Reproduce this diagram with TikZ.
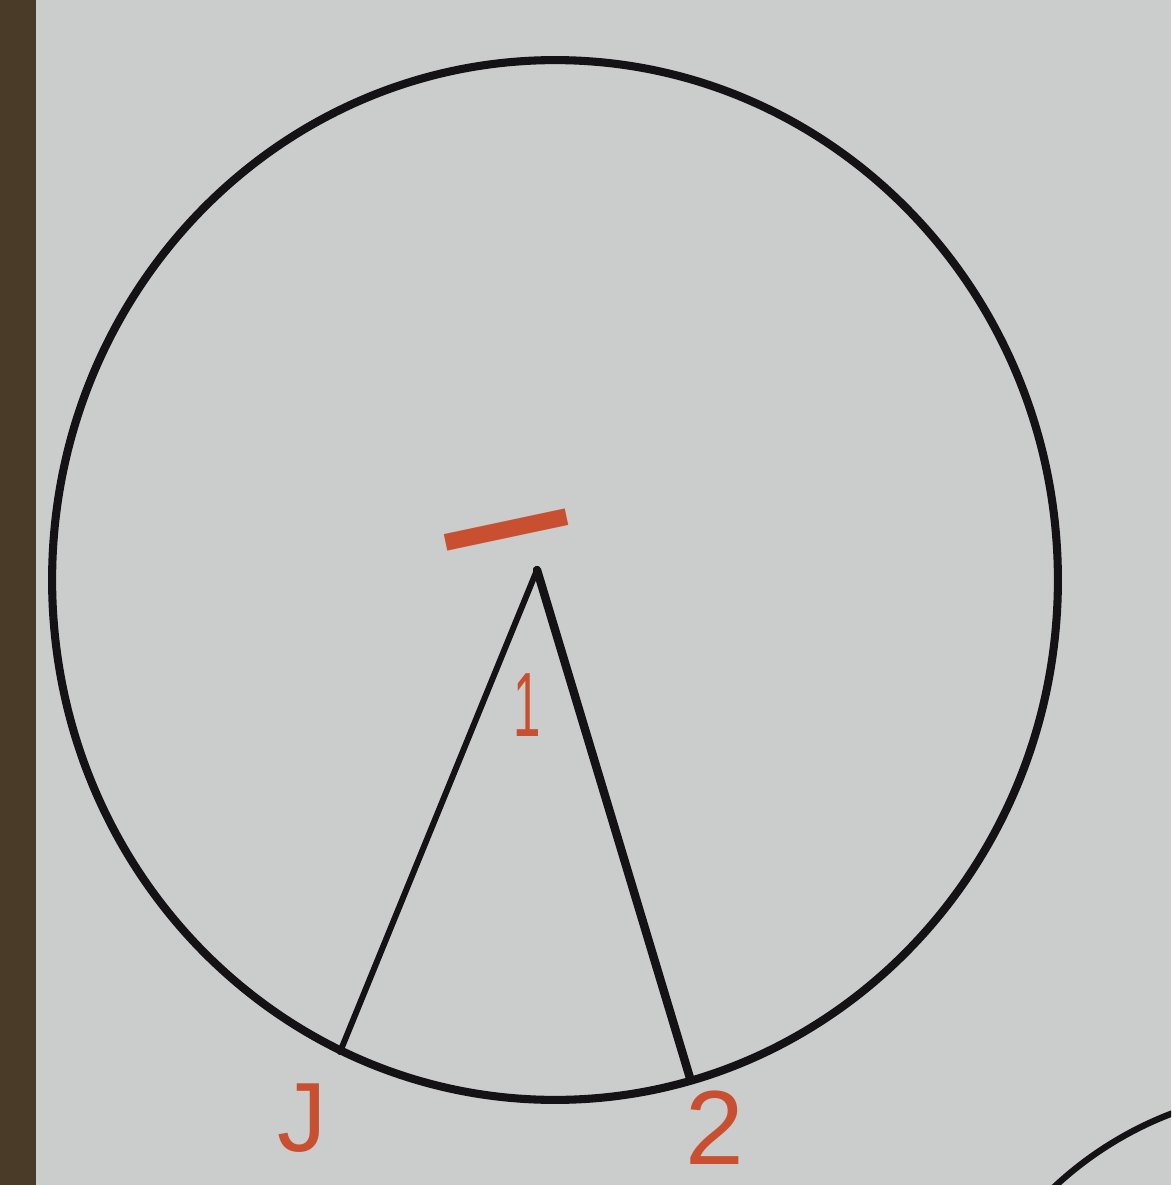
\documentclass[tikz,border=0pt]{standalone}
\usetikzlibrary{shapes.geometric}
\usepackage{fontspec}
\setmainfont{Liberation Sans}
\definecolor{paper}{RGB}{202,205,203}
\definecolor{woodc}{RGB}{74,58,40}
\definecolor{inkred}{RGB}{200,80,48}
\definecolor{inkblk}{RGB}{20,18,20}
\tikzset{
  ring/.style={draw=inkblk, line width=4.6pt, ellipse, minimum width=20.12cm, minimum height=20.8cm, inner sep=0pt},
  seg/.style={draw=inkblk, line cap=round},
  lbl/.style={text=inkred, font=\fontsize{44}{44}\selectfont, inner sep=0pt}
}
\begin{document}
\begin{tikzpicture}[x=0.02cm, y=-0.02cm]
\useasboundingbox (0,0) rectangle (1171,1185);
\fill[paper] (0,0) rectangle (1171,1185);
\fill[woodc] (0,0) rectangle (36,1185);
\begin{scope}
\clip (0,0) rectangle (1171,1185);
\draw[inkblk, line width=3.6pt] (1300,1450) circle[radius=360];
\end{scope}
\node[ring] (circ) at (555,580) {};
\coordinate (O) at (537,570);
\coordinate (A) at (340,1052);
\coordinate (B) at (690,1078);
\draw[seg, line width=3.4pt] (O) -- (A);
\draw[seg, line width=4.8pt] (O) -- (B);
\node[lbl, rotate=12] (top) at (510,548) {\scalebox{1.6}[2.2]{\bfseries —}};
\node[lbl, font=\fontsize{40}{40}\selectfont, xscale=0.7, yscale=1.3] (one) at (527,705) {1};
\node[lbl, font=\fontsize{56}{56}\selectfont] (jl) at (302,1118) {J};
\node[lbl, font=\fontsize{60}{60}\selectfont] (two) at (715,1128) {2};
\end{tikzpicture}
\end{document}
